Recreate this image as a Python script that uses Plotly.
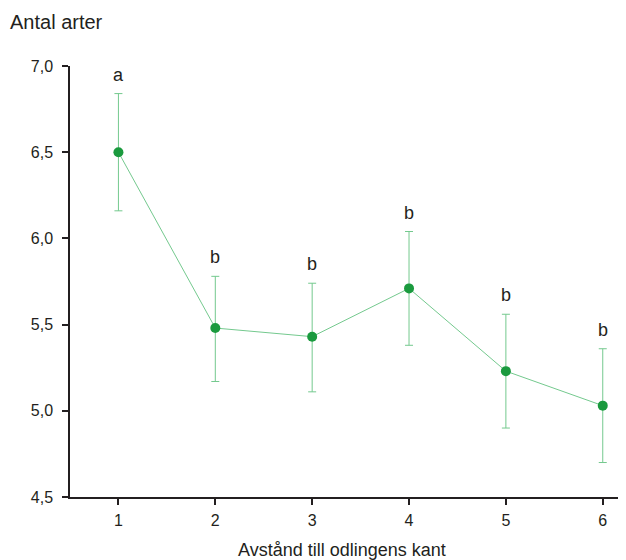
import plotly.graph_objects as go

distance = [1, 2, 3, 4, 5, 6]
mean_species = [6.50, 5.48, 5.43, 5.71, 5.23, 5.03]
err_upper = [0.34, 0.30, 0.31, 0.33, 0.33, 0.33]
err_lower = [0.34, 0.31, 0.32, 0.33, 0.33, 0.33]
group_letters = ["a", "b", "b", "b", "b", "b"]
y_ticks = [4.5, 5.0, 5.5, 6.0, 6.5, 7.0]

FONT = "Liberation Sans, Arial, sans-serif"
LINE_GREEN = "#74c98e"
DOT_GREEN = "#1a9a3e"
TEXT = "#231f20"

fig = go.Figure()
fig.add_trace(go.Scatter(
    x=distance, y=mean_species, mode="lines+markers",
    line=dict(color=LINE_GREEN, width=1),
    marker=dict(color=DOT_GREEN, size=10),
    error_y=dict(type="data", symmetric=False, array=err_upper, arrayminus=err_lower,
                 color=LINE_GREEN, thickness=1, width=4),
    showlegend=False,
))

for x, y, up, lab in zip(distance, mean_species, err_upper, group_letters):
    fig.add_annotation(x=x, y=y + up, text=lab, showarrow=False,
                       yanchor="bottom", yshift=7,
                       font=dict(family=FONT, size=18, color=TEXT))

fig.add_annotation(xref="paper", yref="paper", x=0, y=1, xshift=-62, yshift=44,
                   xanchor="left", yanchor="middle", text="Antal arter", showarrow=False,
                   font=dict(family=FONT, size=20, color=TEXT))
fig.add_annotation(xref="paper", yref="paper", x=0.49, y=0, yshift=-53,
                   xanchor="center", yanchor="middle", text="Avstånd till odlingens kant",
                   showarrow=False, font=dict(family=FONT, size=18, color=TEXT))

# page body has an 8px default margin, so the figure is sized to fill the rest
fig.update_layout(
    width=618, height=552,
    margin=dict(l=61.5, r=0, t=58, b=63),
    paper_bgcolor="white", plot_bgcolor="white",
    separators=",.",
    font=dict(family=FONT, size=16, color=TEXT),
    xaxis=dict(range=[0.5, 6.24], tickvals=distance, showline=True, linecolor=TEXT,
               linewidth=1.5, ticks="outside", ticklen=6, tickwidth=1.5, tickcolor=TEXT,
               showgrid=False, zeroline=False, automargin=False, ticklabelstandoff=2,
               tickfont=dict(family=FONT, size=16, color=TEXT)),
    yaxis=dict(range=[4.5, 7.0], tickvals=y_ticks, tickformat=".1f", showline=True,
               linecolor=TEXT, linewidth=1.5, ticks="outside", ticklen=6, tickwidth=1.5,
               tickcolor=TEXT, showgrid=False, zeroline=False, automargin=False,
               ticklabelstandoff=6, tickfont=dict(family=FONT, size=16, color=TEXT)),
)

fig.write_html("out.html")
